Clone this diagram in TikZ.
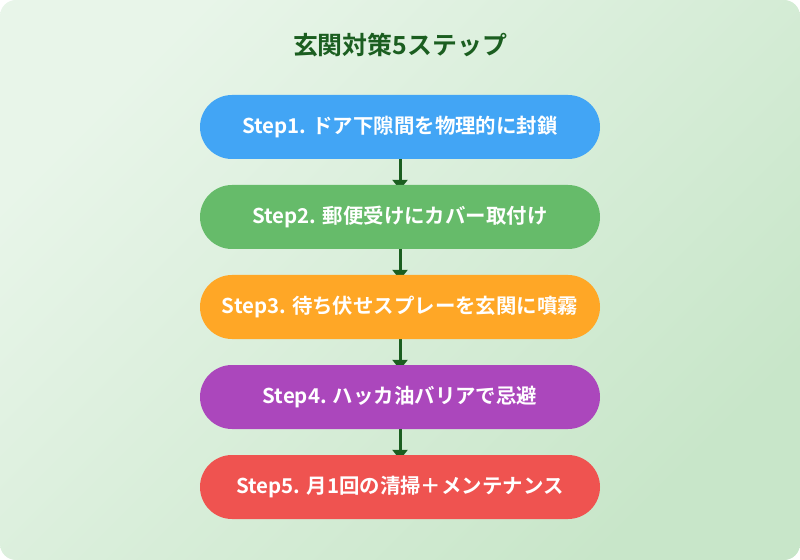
\documentclass[tikz,border=0pt]{standalone}
\usepackage{fontspec}
\setmainfont{Noto Sans CJK JP}[BoldFont={Noto Sans CJK JP Bold}]
\usetikzlibrary{arrows.meta}
\definecolor{bgA}{HTML}{E8F5E9}
\definecolor{bgB}{HTML}{C8E6C9}
\definecolor{titlegreen}{HTML}{1B5E20}
\definecolor{sblue}{HTML}{42A5F5}
\definecolor{sgreen}{HTML}{66BB6A}
\definecolor{sorange}{HTML}{FFA726}
\definecolor{spurple}{HTML}{AB47BC}
\definecolor{sred}{HTML}{EF5350}
\pgfdeclarelayer{back}
\pgfdeclarelayer{links}
\pgfsetlayers{back,links,main}
\tikzset{
	stepbox/.style={rounded corners=32bp, minimum width=400bp, minimum height=64bp, inner sep=0pt, text=white, font=\fontsize{20.5}{24}\selectfont\bfseries},
	flow/.style={-{Triangle[width=15bp,length=10bp]}, line width=3bp, draw=titlegreen, shorten >=-5bp}
}
\begin{document}
\begin{tikzpicture}[x=1bp,y=-1bp,line join=round]
	\useasboundingbox (0,0) rectangle (800,560);
	\begin{pgfonlayer}{back}
	\shade[rounded corners=16bp, top color=bgA, bottom color=bgB, shading angle=45] (0,0) rectangle (800,560);
	\end{pgfonlayer}
	\node[text=titlegreen, font=\fontsize{25}{30}\selectfont\bfseries] (title) at (400,45) {玄関対策5ステップ};
	\node[stepbox, fill=sblue] (s1) at (400,127) {Step1. ドア下隙間を物理的に封鎖};
	\node[stepbox, fill=sgreen] (s2) at (400,217) {Step2. 郵便受けにカバー取付け};
	\node[stepbox, fill=sorange] (s3) at (400,307) {Step3. 待ち伏せスプレーを玄関に噴霧};
	\node[stepbox, fill=spurple] (s4) at (400,397) {Step4. ハッカ油バリアで忌避};
	\node[stepbox, fill=sred] (s5) at (400,487) {Step5. 月1回の清掃＋メンテナンス};
	\begin{pgfonlayer}{links}
	\foreach \a/\b in {s1/s2,s2/s3,s3/s4,s4/s5}
		\draw[flow] (\a) -- (\b);
	\end{pgfonlayer}
\end{tikzpicture}
\end{document}
